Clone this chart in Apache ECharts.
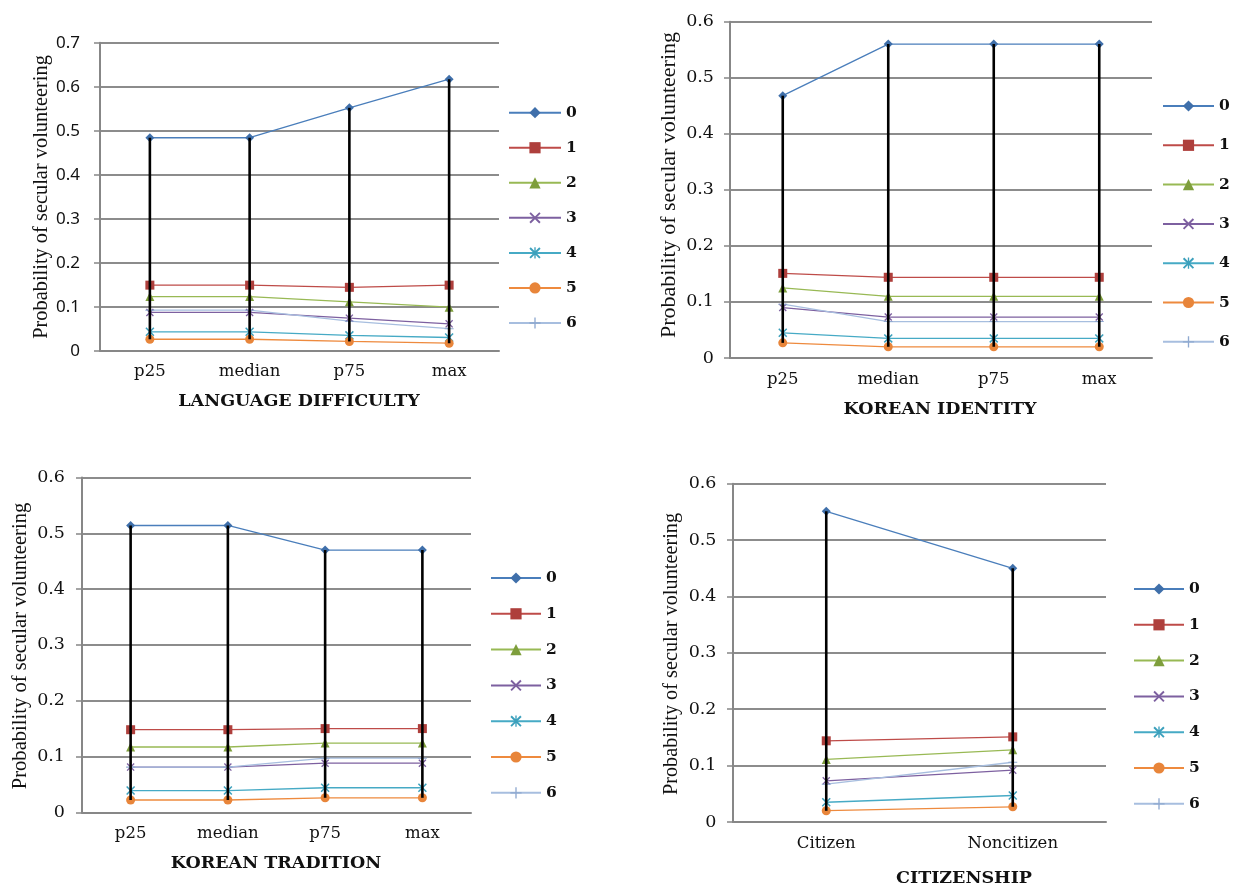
<!DOCTYPE html>
<html>
<head>
<meta charset="utf-8">
<script src="https://cdn.jsdelivr.net/npm/echarts@6/dist/echarts.min.js"></script>
<style>
html,body{margin:0;padding:0;background:#fff;}
#chart{width:1233px;height:886px;}
</style>
</head>
<body>
<div id="chart"></div>
<script>
// ---- categories ----
const quartileCats = ['p25', 'median', 'p75', 'max'];
const citizenCats = ['Citizen', 'Noncitizen'];
const seriesNames = ['0', '1', '2', '3', '4', '5', '6'];
const yTicks07 = [0, 0.1, 0.2, 0.3, 0.4, 0.5, 0.6, 0.7];
const yTicks06 = [0, 0.1, 0.2, 0.3, 0.4, 0.5, 0.6];

// ---- LANGUAGE DIFFICULTY ----
const lang0 = [0.484, 0.484, 0.552, 0.617];
const lang1 = [0.149, 0.149, 0.144, 0.149];
const lang2 = [0.123, 0.123, 0.111, 0.099];
const lang3 = [0.087, 0.087, 0.074, 0.061];
const lang4 = [0.043, 0.043, 0.035, 0.030];
const lang5 = [0.026, 0.026, 0.021, 0.017];
const lang6 = [0.092, 0.092, 0.067, 0.050];

// ---- KOREAN IDENTITY ----
const ident0 = [0.468, 0.560, 0.560, 0.560];
const ident1 = [0.151, 0.144, 0.144, 0.144];
const ident2 = [0.125, 0.110, 0.110, 0.110];
const ident3 = [0.090, 0.073, 0.073, 0.073];
const ident4 = [0.045, 0.035, 0.035, 0.035];
const ident5 = [0.027, 0.020, 0.020, 0.020];
const ident6 = [0.096, 0.065, 0.065, 0.065];

// ---- KOREAN TRADITION ----
const trad0 = [0.514, 0.514, 0.470, 0.470];
const trad1 = [0.148, 0.148, 0.150, 0.150];
const trad2 = [0.117, 0.117, 0.124, 0.124];
const trad3 = [0.081, 0.081, 0.088, 0.088];
const trad4 = [0.039, 0.039, 0.044, 0.044];
const trad5 = [0.022, 0.022, 0.026, 0.026];
const trad6 = [0.081, 0.081, 0.097, 0.097];

// ---- CITIZENSHIP ----
const cit0 = [0.551, 0.450];
const cit1 = [0.144, 0.151];
const cit2 = [0.111, 0.128];
const cit3 = [0.073, 0.092];
const cit4 = [0.035, 0.047];
const cit5 = [0.020, 0.027];
const cit6 = [0.067, 0.106];

const panels = [
  { title: 'LANGUAGE DIFFICULTY', cats: quartileCats, ticks: yTicks07, series: [lang0, lang1, lang2, lang3, lang4, lang5, lang6] },
  { title: 'KOREAN IDENTITY', cats: quartileCats, ticks: yTicks06, series: [ident0, ident1, ident2, ident3, ident4, ident5, ident6] },
  { title: 'KOREAN TRADITION', cats: quartileCats, ticks: yTicks06, series: [trad0, trad1, trad2, trad3, trad4, trad5, trad6] },
  { title: 'CITIZENSHIP', cats: citizenCats, ticks: yTicks06, series: [cit0, cit1, cit2, cit3, cit4, cit5, cit6] }
];

// ---- layout & style (not data) ----
const layout = [
  { grid: {left: 100, top: 42.7, width: 399, height: 308}, labelMargin: 20, tickFont: 'Noto Sans', tickSize: 17,
    yTitle: {x: 42, y: 197, size: 20.4}, xTitle: {x: 299, y: 401},
    legend: {left: 508, top: 104.7, gap: 19.05, width: 52} },
  { grid: {left: 730, top: 21.7, width: 422, height: 336.3}, labelMargin: 16, tickFont: 'DejaVu Serif', tickSize: 17.5,
    yTitle: {x: 669, y: 185, size: 22}, xTitle: {x: 940, y: 409},
    legend: {left: 1162, top: 98, gap: 23.3, width: 51} },
  { grid: {left: 82, top: 477.5, width: 389, height: 334.8}, labelMargin: 17, tickFont: 'DejaVu Serif', tickSize: 17.5,
    yTitle: {x: 21, y: 646, size: 20.6}, xTitle: {x: 276, y: 863},
    legend: {left: 490, top: 570, gap: 19.8, width: 50} },
  { grid: {left: 733, top: 483.7, width: 373, height: 338.3}, labelMargin: 16.5, tickFont: 'DejaVu Serif', tickSize: 17.5,
    yTitle: {x: 672, y: 654, size: 20.3}, xTitle: {x: 964, y: 878},
    legend: {left: 1133, top: 581, gap: 19.8, width: 50} }
];

const X_PATH = 'path://M0,1.2L1.2,0L5,3.8L8.8,0L10,1.2L6.2,5L10,8.8L8.8,10L5,6.2L1.2,10L0,8.8L3.8,5Z';
const AST_PATH = 'path://M0,1.2L1.2,0L5,3.8L8.8,0L10,1.2L6.2,5L10,8.8L8.8,10L5,6.2L1.2,10L0,8.8L3.8,5Z M4.4,0L5.6,0L5.6,10L4.4,10Z';
const PLUS_PATH = 'path://M4.4,0H5.6V4.4H10V5.6H5.6V10H4.4V5.6H0V4.4H4.4Z';

const styles = [
  { line: '#4A7EBB', marker: '#3F6FAA', symbol: 'diamond', size: 9 },
  { line: '#BE4B48', marker: '#AE3F3C', symbol: 'rect', size: 9 },
  { line: '#98B954', marker: '#7E9E3C', symbol: 'triangle', size: 9 },
  { line: '#7D60A0', marker: '#7D60A0', symbol: X_PATH, size: 8 },
  { line: '#46AAC5', marker: '#3CA0BC', symbol: AST_PATH, size: 9 },
  { line: '#EE8A3E', marker: '#E8853A', symbol: 'circle', size: 9 },
  { line: '#A7BEDF', marker: '#8FA9D0', symbol: PLUS_PATH, size: 9 }
];

const grids = [], xAxes = [], yAxes = [], series = [], legends = [], graphics = [];

panels.forEach((p, gi) => {
  const L = layout[gi];
  grids.push(Object.assign({}, L.grid, {containLabel: false}));
  xAxes.push({
    type: 'category', gridIndex: gi, data: p.cats, boundaryGap: true,
    axisLine: {lineStyle: {color: '#878787', width: 2}},
    axisTick: {show: false},
    axisLabel: {color: '#111', fontFamily: 'DejaVu Serif', fontSize: 16.5, margin: 13},
    splitLine: {show: false}
  });
  const ymax = p.ticks[p.ticks.length - 1];
  yAxes.push({
    type: 'value', gridIndex: gi, min: 0, max: ymax, interval: 0.1,
    axisLine: {show: true, lineStyle: {color: '#878787', width: 2}},
    axisTick: {show: true, length: 6, lineStyle: {color: '#878787', width: 1.5}},
    axisLabel: {color: '#111', fontFamily: L.tickFont, fontSize: L.tickSize, margin: L.labelMargin,
      formatter: v => String(Math.round(v * 10) / 10)},
    splitLine: {show: true, lineStyle: {color: '#8C8C8C', width: 2}}
  });
  p.series.forEach((vals, si) => {
    const s = styles[si];
    series.push({
      type: 'line', name: seriesNames[si], xAxisIndex: gi, yAxisIndex: gi,
      data: vals, symbol: s.symbol, symbolSize: s.size, showSymbol: true,
      lineStyle: {color: s.line, width: 1.3},
      itemStyle: {color: s.marker},
      z: 3, animation: false
    });
  });
  // high-low lines computed from the series arrays
  const hl = p.cats.map((c, ci) => {
    const col = p.series.map(arr => arr[ci]);
    return [ci, Math.min(...col), Math.max(...col)];
  });
  series.push({
    type: 'custom', xAxisIndex: gi, yAxisIndex: gi, data: hl, z: 4, animation: false,
    silent: true,
    renderItem: (params, api) => {
      const a = api.coord([api.value(0), api.value(1)]);
      const b = api.coord([api.value(0), api.value(2)]);
      return {type: 'line', shape: {x1: a[0], y1: a[1], x2: b[0], y2: b[1]},
        style: {stroke: '#000', lineWidth: 2.6}};
    }
  });
  legends.push({
    orient: 'vertical', left: L.legend.left, top: L.legend.top, padding: 0,
    data: seriesNames, itemWidth: L.legend.width, itemHeight: 14, itemGap: L.legend.gap,
    textStyle: {fontFamily: 'DejaVu Serif', fontWeight: 'bold', fontSize: 15.5, color: '#111', lineHeight: 16},
    selectedMode: false
  });
  graphics.push({
    type: 'text', x: L.yTitle.x, y: L.yTitle.y, rotation: Math.PI / 2,
    style: {text: 'Probability of secular volunteering', fontFamily: 'Liberation Serif', fontSize: L.yTitle.size,
      fill: '#111', align: 'center', verticalAlign: 'middle'}
  });
  graphics.push({
    type: 'text', x: L.xTitle.x, y: L.xTitle.y,
    style: {text: p.title, fontFamily: 'DejaVu Serif', fontWeight: 'bold', fontSize: 17.5,
      fill: '#111', align: 'center', verticalAlign: 'middle'}
  });
});

const chart = echarts.init(document.getElementById('chart'), null, {renderer: 'canvas'});
chart.setOption({
  animation: false,
  backgroundColor: '#fff',
  grid: grids, xAxis: xAxes, yAxis: yAxes, series: series, legend: legends,
  graphic: graphics
});
</script>
</body>
</html>
